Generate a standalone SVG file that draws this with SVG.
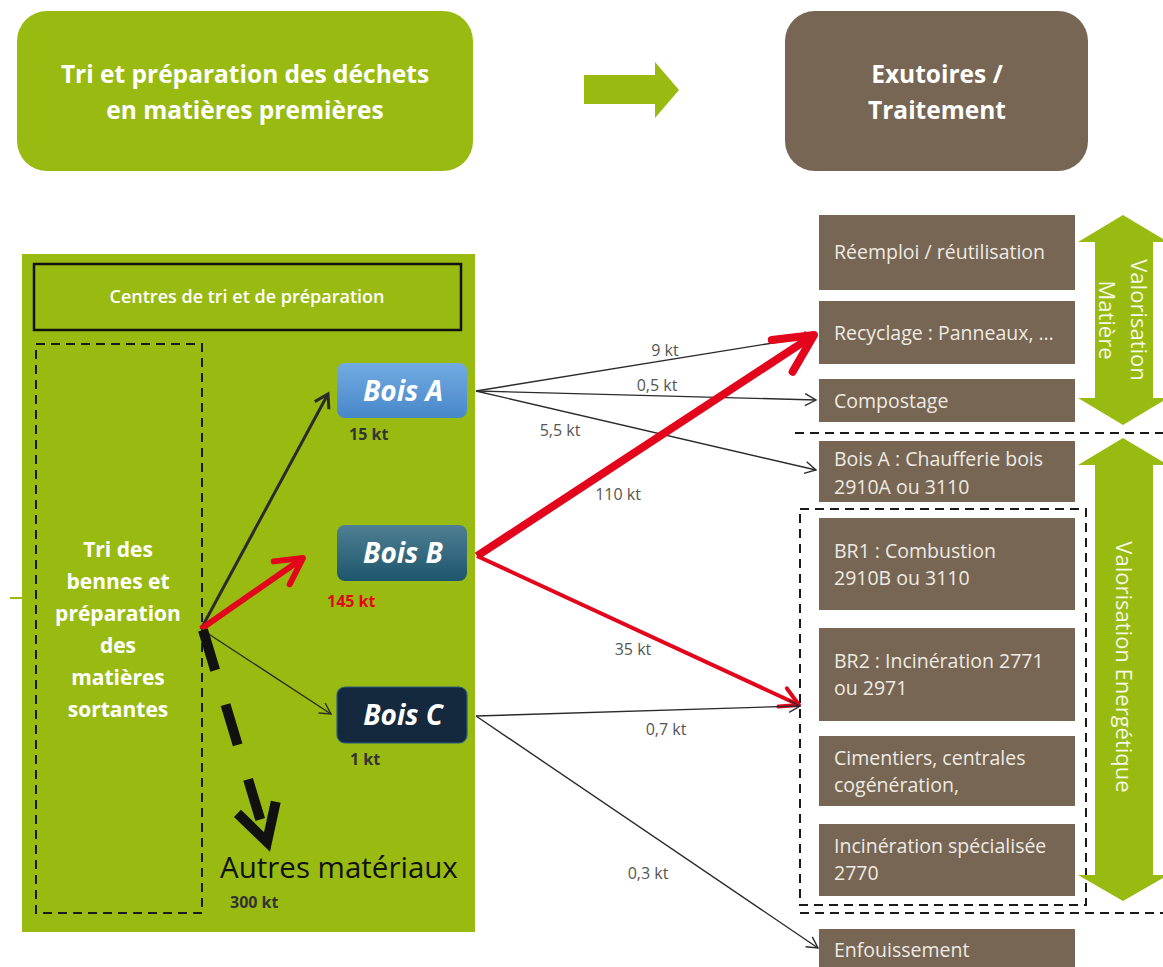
<svg xmlns="http://www.w3.org/2000/svg" width="1163" height="967" viewBox="0 0 1163 967">
<style>
.t{font-family:"Open Sans","Liberation Sans",sans-serif}
.wb{fill:#fff;font-weight:bold}
.br{fill:#766653}
.bt{fill:#efeae3;font-size:19.5px}
.lab{fill:#555;font-size:16px;text-anchor:middle}
.kt{fill:#333;font-size:16px;font-weight:bold}
.bois{fill:#fff;font-size:28px;font-weight:bold;font-style:italic;text-anchor:middle}
.ln{fill:none;stroke:#2b2b2b;stroke-width:1.4}
.red{fill:none;stroke:#e3051b}
.dash{fill:none;stroke:#1a1a1a;stroke-width:2;stroke-dasharray:9 6}
.garrow{fill:#99bb11}
.vt{fill:#f3f7e4;font-size:22px;text-anchor:middle}
</style>
<defs>
<linearGradient id="gA" x1="0" y1="0" x2="0" y2="1"><stop offset="0" stop-color="#72abe2"/><stop offset="1" stop-color="#4787c9"/></linearGradient>
<linearGradient id="gB" x1="0" y1="0" x2="0" y2="1"><stop offset="0" stop-color="#4f7f93"/><stop offset="1" stop-color="#1d566d"/></linearGradient>
<marker id="mThin" markerUnits="userSpaceOnUse" markerWidth="16" markerHeight="16" refX="12" refY="8" orient="auto" overflow="visible"><path d="M1,2 L12,8 L1,14" fill="none" stroke="#2b2b2b" stroke-width="1.4"/></marker>
<marker id="mMid" markerUnits="userSpaceOnUse" markerWidth="20" markerHeight="20" refX="14" refY="9" orient="auto" overflow="visible"><path d="M1,1 L14,9 L1,17" fill="none" stroke="#2b2b2b" stroke-width="3"/></marker>
<marker id="mRedBig" markerUnits="userSpaceOnUse" markerWidth="50" markerHeight="50" refX="40" refY="22" orient="auto" overflow="visible"><path d="M2,3 L40,22 L2,41" fill="none" stroke="#e3051b" stroke-width="8" stroke-linecap="round" stroke-linejoin="round"/></marker>
<marker id="mRedMid" markerUnits="userSpaceOnUse" markerWidth="40" markerHeight="40" refX="28" refY="16" orient="auto" overflow="visible"><path d="M2,2 L28,16 L2,30" fill="none" stroke="#e3051b" stroke-width="6" stroke-linecap="round" stroke-linejoin="round"/></marker>
<marker id="mRedSm" markerUnits="userSpaceOnUse" markerWidth="30" markerHeight="30" refX="20" refY="11" orient="auto" overflow="visible"><path d="M2,1 L20,11 L2,21" fill="none" stroke="#e3051b" stroke-width="4" stroke-linecap="round" stroke-linejoin="round"/></marker>
<marker id="mBlkBig" markerUnits="userSpaceOnUse" markerWidth="60" markerHeight="60" refX="40" refY="22" orient="auto" overflow="visible"><path d="M4,2 L40,22 L4,42" fill="none" stroke="#111" stroke-width="10" stroke-linejoin="miter"/></marker>
</defs>
<rect width="1163" height="967" fill="#fff"/>

<g id="header-tri">
<rect x="17" y="11" width="456" height="160" rx="30" fill="#99bb11"/>
<text class="t wb" x="245" y="83" font-size="24.5" text-anchor="middle">Tri et préparation des déchets</text>
<text class="t wb" x="245" y="119" font-size="24.5" text-anchor="middle">en matières premières</text>
</g>
<g id="header-arrow">
<polygon class="garrow" points="584,75 655,75 655,62 679,90 655,118 655,104 584,104"/>
</g>
<g id="header-exutoires">
<rect x="785" y="11" width="303" height="160" rx="30" fill="#766653"/>
<text class="t wb" x="937" y="83" font-size="24.5" text-anchor="middle">Exutoires /</text>
<text class="t wb" x="937" y="119" font-size="24.5" text-anchor="middle">Traitement</text>
</g>

<g id="panel">
<line x1="10" y1="598" x2="22" y2="598" stroke="#99bb11" stroke-width="2"/>
<rect x="22" y="254" width="453" height="678" fill="#99bb11"/>
</g>
<g id="centres">
<rect x="34" y="264" width="427" height="66" fill="none" stroke="#111" stroke-width="2.5"/>
<text class="t" x="247" y="303" font-size="18" font-weight="600" fill="#fff" text-anchor="middle">Centres de tri et de préparation</text>
</g>
<g id="tri-bennes">
<rect x="36" y="344" width="166" height="569" class="dash"/>
<text class="t wb" font-size="21" text-anchor="middle"><tspan x="118" y="557">Tri des</tspan><tspan x="118" y="589">bennes et</tspan><tspan x="118" y="621">préparation</tspan><tspan x="118" y="653">des</tspan><tspan x="118" y="685">matières</tspan><tspan x="118" y="717">sortantes</tspan></text>
</g>
<g id="bois-a">
<rect x="337" y="363" width="130" height="55" rx="8" fill="url(#gA)"/>
<text class="t bois" x="403" y="401">Bois A</text>
<text class="t kt" x="349" y="440">15 kt</text>
</g>
<g id="bois-b">
<rect x="337" y="525" width="130" height="56" rx="8" fill="url(#gB)"/>
<text class="t bois" x="403" y="563">Bois B</text>
<text class="t kt" x="327" y="607" style="fill:#e3051b">145 kt</text>
</g>
<g id="bois-c">
<rect x="337" y="687" width="130" height="56" rx="8" fill="#14283e" stroke="#2a5f80" stroke-width="1.2"/>
<text class="t bois" x="403" y="725">Bois C</text>
<text class="t kt" x="350" y="765">1 kt</text>
</g>
<g id="autres">
<text class="t" x="220" y="878" font-size="29.5" fill="#111">Autres matériaux</text>
<text class="t kt" x="230" y="908">300 kt</text>
</g>

<g id="reemploi"><rect class="br" x="819" y="215" width="256" height="75"/><text class="t bt" x="834" y="259">Réemploi / réutilisation</text></g>
<g id="recyclage"><rect class="br" x="819" y="301" width="256" height="63"/><text class="t bt" x="834" y="340">Recyclage : Panneaux, …</text></g>
<g id="compostage"><rect class="br" x="819" y="379" width="256" height="43"/><text class="t bt" x="834" y="408">Compostage</text></g>
<g id="chaufferie"><rect class="br" x="819" y="441" width="256" height="61"/><text class="t bt"><tspan x="834" y="466">Bois A : Chaufferie bois</tspan><tspan x="834" y="494">2910A ou 3110</tspan></text></g>
<g id="br1"><rect class="br" x="819" y="518" width="256" height="92"/><text class="t bt"><tspan x="834" y="558">BR1 : Combustion</tspan><tspan x="834" y="585">2910B ou 3110</tspan></text></g>
<g id="br2"><rect class="br" x="819" y="628" width="256" height="93"/><text class="t bt"><tspan x="834" y="668">BR2 : Incinération 2771</tspan><tspan x="834" y="695">ou 2971</tspan></text></g>
<g id="cimentiers"><rect class="br" x="819" y="736" width="256" height="70"/><text class="t bt"><tspan x="834" y="765">Cimentiers, centrales</tspan><tspan x="834" y="792">cogénération,</tspan></text></g>
<g id="incineration"><rect class="br" x="819" y="824" width="256" height="72"/><text class="t bt"><tspan x="834" y="853">Incinération spécialisée</tspan><tspan x="834" y="880">2770</tspan></text></g>
<g id="enfouissement"><rect class="br" x="819" y="929" width="256" height="40"/><text class="t bt" x="834" y="957">Enfouissement</text></g>

<g id="group-energie-box"><rect x="800" y="509" width="286" height="396" class="dash"/></g>
<g id="separators">
<line x1="795" y1="433" x2="1163" y2="433" class="dash"/>
<line x1="800" y1="913" x2="1163" y2="913" class="dash"/>
</g>

<g id="valorisation-matiere">
<polygon class="garrow" points="1123,215 1168,242 1153,242 1153,398 1168,398 1123,425 1078,398 1095,398 1095,242 1078,242"/>
<text class="t vt" transform="translate(1131,320) rotate(90)">Valorisation</text>
<text class="t vt" transform="translate(1099,320) rotate(90)">Matière</text>
</g>
<g id="valorisation-energetique">
<polygon class="garrow" points="1123,438 1168,465 1153,465 1153,875 1168,875 1123,901 1078,875 1095,875 1095,465 1078,465"/>
<text class="t vt" transform="translate(1116,667) rotate(90)">Valorisation Energétique</text>
</g>

<g id="connectors">
<line x1="201" y1="629" x2="328" y2="394" stroke="#2b2b2b" stroke-width="3" marker-end="url(#mMid)"/>
<line x1="201" y1="629" x2="303" y2="558" class="red" stroke-width="6" marker-end="url(#mRedMid)"/>
<line x1="201" y1="629" x2="331" y2="714" class="ln" marker-end="url(#mThin)"/>
<line x1="203" y1="630" x2="267" y2="842" stroke="#111" stroke-width="10" stroke-dasharray="42 36" marker-end="url(#mBlkBig)"/>

<line x1="476" y1="391" x2="816" y2="336" class="ln" marker-end="url(#mThin)"/>
<line x1="476" y1="391" x2="816" y2="400" class="ln" marker-end="url(#mThin)"/>
<line x1="476" y1="391" x2="816" y2="470" class="ln" marker-end="url(#mThin)"/>
<line x1="477" y1="556" x2="814" y2="335" class="red" stroke-width="8" marker-end="url(#mRedBig)"/>
<line x1="477" y1="556" x2="799" y2="705" class="red" stroke-width="4" marker-end="url(#mRedSm)"/>
<line x1="476" y1="716" x2="800" y2="706" class="ln" marker-end="url(#mThin)"/>
<line x1="476" y1="716" x2="818" y2="948" class="ln" marker-end="url(#mThin)"/>

<text class="t lab" x="665" y="356">9 kt</text>
<text class="t lab" x="657" y="391">0,5 kt</text>
<text class="t lab" x="560" y="436">5,5 kt</text>
<text class="t lab" x="618" y="500">110 kt</text>
<text class="t lab" x="633" y="655">35 kt</text>
<text class="t lab" x="666" y="735">0,7 kt</text>
<text class="t lab" x="648" y="879">0,3 kt</text>
</g>
</svg>
